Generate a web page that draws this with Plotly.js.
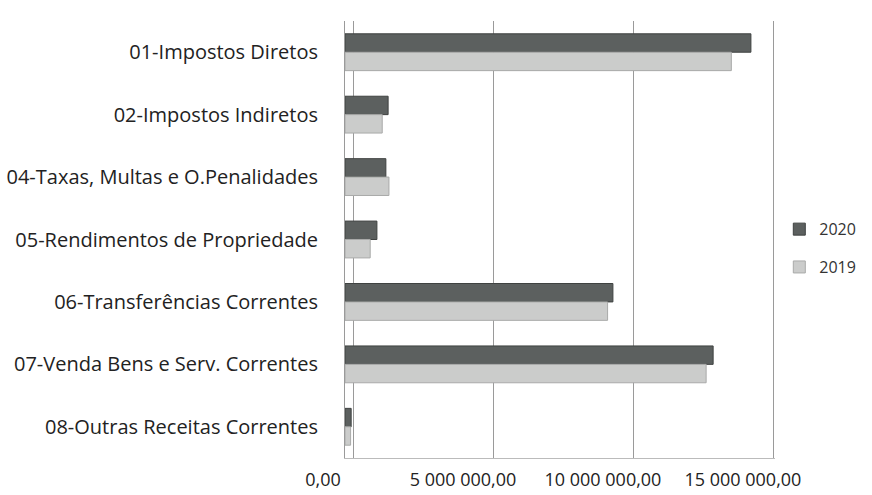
<!DOCTYPE html>
<html>
<head>
<meta charset="utf-8">
<script src="https://cdn.plot.ly/plotly-3.0.1.min.js"></script>
<style>html,body{margin:0;padding:0;background:#fff;}#chart{width:872px;height:495px;}</style>
</head>
<body>
<div id="chart"></div>
<script>
const categories = [
  "01-Impostos Diretos",
  "02-Impostos Indiretos",
  "04-Taxas, Multas e O.Penalidades",
  "05-Rendimentos de Propriedade",
  "06-Transferências Correntes",
  "07-Venda Bens e Serv. Correntes",
  "08-Outras Receitas Correntes"
];
const values2020 = [14500000, 1540000, 1460000, 1140000, 9570000, 13150000, 220000];
const values2019 = [13800000, 1330000, 1570000, 900000, 9380000, 12900000, 200000];
const tickValues = [0, 5000000, 10000000, 15000000];
const tickLabels = ["0,00", "5 000 000,00", "10 000 000,00", "15 000 000,00"];

const font = "'Open Sans', 'DejaVu Sans', sans-serif";

const traces = [
  {
    type: "bar", orientation: "h", name: "2020",
    y: categories, x: values2020,
    marker: {color: "#5c605f", line: {color: "#3f4241", width: 1}},
    legendgroup: "a", hoverinfo: "x+name"
  },
  {
    type: "bar", orientation: "h", name: "2019",
    y: categories, x: values2019,
    marker: {color: "#cbcccb", line: {color: "#a9aaa9", width: 1}},
    legendgroup: "b", hoverinfo: "x+name"
  },
  {
    // back-wall gridlines of the 3D plot
    type: "scatter", mode: "none", x: [0], y: [categories[0]],
    xaxis: "x2", showlegend: false, hoverinfo: "skip"
  }
];

const layout = {
  width: 872, height: 495,
  paper_bgcolor: "#ffffff", plot_bgcolor: "rgba(0,0,0,0)",
  margin: {l: 345, r: 97, t: 21, b: 37, autoexpand: false},
  barmode: "group",
  bargap: 0.41,
  bargroupgap: 0,
  font: {family: font, color: "#222222", size: 18},
  showlegend: true,
  legend: {
    x: 1.01, y: 0.48, xanchor: "left", yanchor: "middle",
    font: {family: font, size: 16, color: "#333"},
    tracegroupgap: 14, itemwidth: 30
  },
  xaxis: {
    range: [0, 15360000],
    tickvals: tickValues, ticktext: tickLabels,
    showgrid: false, zeroline: false,
    showline: true, linecolor: "#bbbbbb", linewidth: 1,
    ticks: "", ticklabelstandoff: 5, ticklabelshift: -22,
    tickfont: {family: font, size: 18, color: "#222222"},
    fixedrange: true
  },
  xaxis2: {
    overlaying: "x",
    range: [-290000, 15070000],
    tickvals: tickValues,
    showgrid: true, gridcolor: "#9a9a9a", gridwidth: 1,
    showticklabels: false, zeroline: false, ticks: "",
    side: "bottom"
  },
  yaxis: {
    type: "category",
    categoryorder: "array", categoryarray: categories,
    autorange: "reversed",
    showgrid: false, zeroline: false,
    showline: true, linecolor: "#9a9a9a", linewidth: 1,
    ticks: "", ticklabelstandoff: 22,
    tickfont: {family: font, size: 20, color: "#222222"}
  }
};

Plotly.newPlot("chart", traces, layout, {displayModeBar: false, staticPlot: true});
</script>
</body>
</html>
